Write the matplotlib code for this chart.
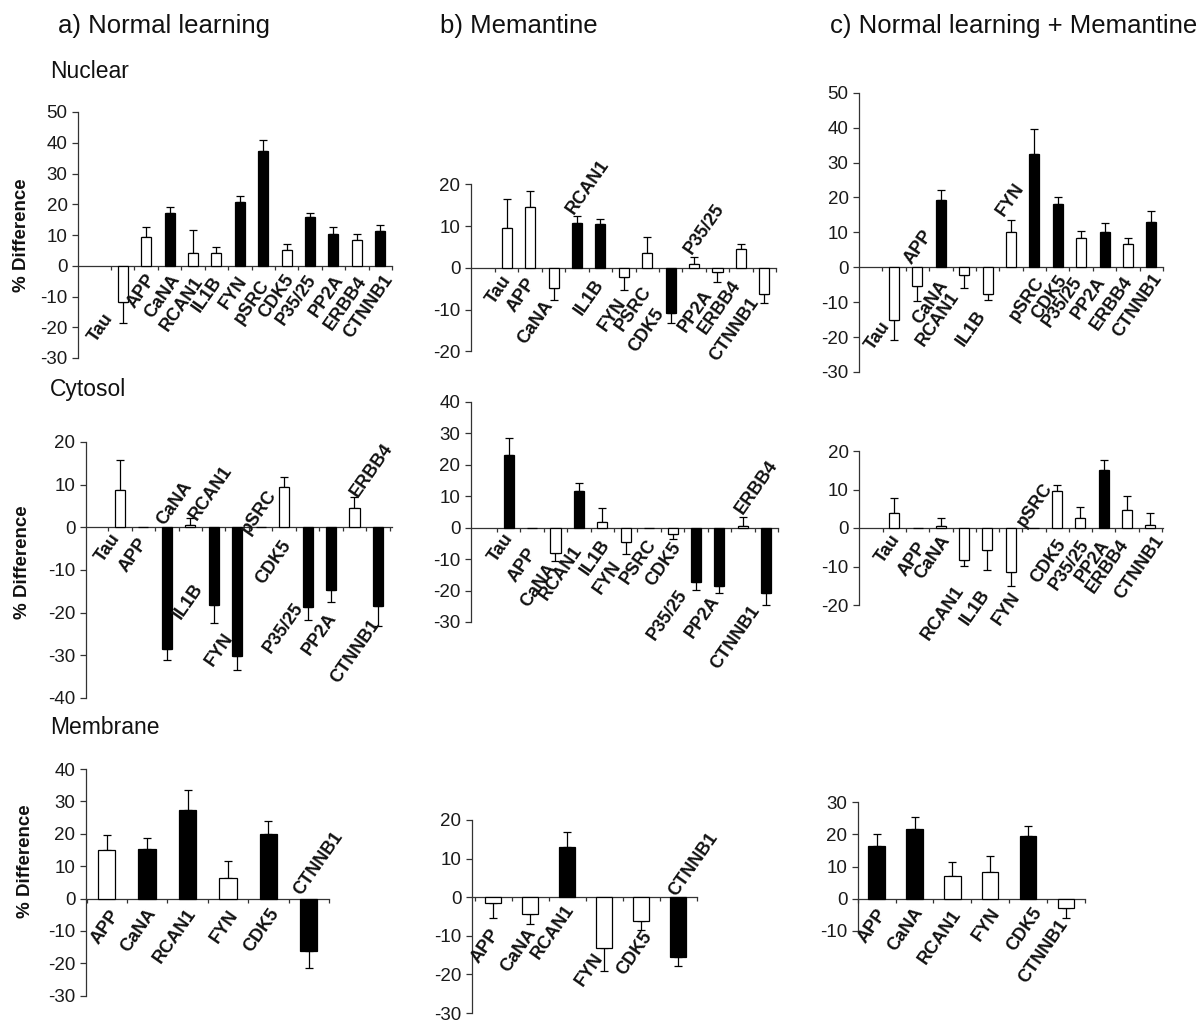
import matplotlib.pyplot as plt
import numpy as np

plt.rcParams['font.family'] = ['Liberation Sans', 'DejaVu Sans']
plt.rcParams['axes.unicode_minus'] = False

W, H = 1197, 1023

genes = ['Tau', 'APP', 'CaNA', 'RCAN1', 'IL1B', 'FYN', 'pSRC', 'CDK5', 'P35/25', 'PP2A', 'ERBB4', 'CTNNB1']
genes_b = ['Tau', 'APP', 'CaNA', 'RCAN1', 'IL1B', 'FYN', 'PSRC', 'CDK5', 'P35/25', 'PP2A', 'ERBB4', 'CTNNB1']
genes_mem = ['APP', 'CaNA', 'RCAN1', 'FYN', 'CDK5', 'CTNNB1']

# % difference, SEM, and significance (1 = filled bar)
nuc_a = [-11.7, 9.4, 17.0, 4.2, 4.2, 20.6, 37.2, 5.1, 15.7, 10.3, 8.5, 11.3]
nuc_a_err = [7.0, 3.3, 2.2, 7.5, 1.8, 2.0, 3.8, 1.9, 1.6, 2.4, 1.8, 2.1]
nuc_a_sig = [0, 0, 1, 0, 0, 1, 1, 0, 1, 1, 0, 1]

nuc_b = [9.6, 14.6, -4.8, 10.8, 10.5, -2.3, 3.6, -10.8, 0.8, -1.1, 4.4, -6.2]
nuc_b_err = [6.9, 3.7, 3.0, 1.6, 1.2, 3.1, 3.8, 2.4, 1.7, 2.3, 1.4, 2.2]
nuc_b_sig = [0, 0, 0, 1, 1, 0, 0, 1, 0, 0, 0, 0]

nuc_c = [-15.1, -5.5, 19.2, -2.2, -7.8, 10.1, 32.4, 18.2, 8.3, 10.1, 6.6, 12.9]
nuc_c_err = [5.8, 4.1, 3.0, 3.7, 1.5, 3.3, 7.1, 2.0, 2.2, 2.6, 1.7, 3.1]
nuc_c_sig = [0, 0, 1, 0, 0, 0, 1, 1, 0, 1, 0, 1]

cyt_a = [8.75, 0, -28.4, 0.5, -18.2, -30.1, 0, 9.4, -18.75, -14.8, 4.45, -18.4]
cyt_a_err = [7.1, 0, 2.7, 1.7, 4.2, 3.3, 0, 2.5, 3.0, 2.6, 2.7, 4.7]
cyt_a_sig = [0, 0, 1, 0, 1, 1, 0, 0, 1, 1, 0, 1]

cyt_b = [23.1, 0, -8.0, 11.8, 1.7, -4.5, 0, -2.1, -17.2, -18.5, 0.6, -20.7]
cyt_b_err = [5.3, 0, 2.5, 2.5, 4.5, 4.0, 0, 1.6, 2.6, 2.2, 2.7, 3.9]
cyt_b_sig = [1, 0, 0, 1, 0, 0, 0, 0, 1, 1, 0, 1]

cyt_c = [3.9, 0, 0.4, -8.4, -5.6, -11.5, 0, 9.7, 2.6, 15.1, 4.6, 0.9]
cyt_c_err = [4.0, 0, 2.2, 1.5, 5.4, 3.6, 0, 1.5, 2.8, 2.6, 3.8, 3.0]
cyt_c_sig = [0, 0, 0, 0, 0, 0, 0, 0, 0, 1, 0, 0]

mem_a = [14.9, 15.4, 27.4, 6.2, 19.8, -16.1]
mem_a_err = [4.8, 3.3, 6.2, 5.4, 4.0, 5.2]
mem_a_sig = [0, 1, 1, 0, 1, 1]

mem_b = [-1.5, -4.3, 12.9, -13.1, -6.2, -15.5]
mem_b_err = [4.0, 2.7, 4.0, 5.9, 2.2, 2.4]
mem_b_sig = [0, 0, 1, 0, 0, 1]

mem_c = [16.5, 21.8, 6.9, 8.2, 19.6, -2.9]
mem_c_err = [3.6, 3.6, 4.6, 5.2, 2.9, 3.1]
mem_c_sig = [1, 1, 0, 0, 1, 0]

# category label placement: (x shift from bar centre, y of label tip)
lab_nuc_a = [(-0.41, -14.4), (0.43, -1.9), (0.46, -1.9), (0.43, -2.5), (0.26, -2.5), (0.33, -2.5),
             (0.26, -3.6), (0.33, -1.9), (0.28, -1.9), (0.43, -1.9), (0.43, -2.5), (0.54, -1.9)]
lab_nuc_b = [(0.2, -1.0), (0.24, -1.8), (0.0, -7.0), (1.37, 26.5), (0.17, -2.2), (0.1, -6.6),
             (0.2, -3.8), (-0.25, -9.0), (1.3, 16.0), (-0.2, -4.6), (0.0, -2.2), (-0.2, -6.5)]
lab_nuc_c = [(-0.17, -14.8), (0.67, 11.5), (0.3, -2.9), (-0.2, -6.2), (-0.05, -11.5), (0.58, 24.9),
             (0.44, -1.9), (0.42, -1.4), (0.06, -1.9), (0.07, -1.9), (0.2, -1.9), (0.47, -1.0)]
lab_cyt_a = [(0.0, -0.7), (0.2, -1.9), (1.07, 11.5), (1.8, 15.2), (-0.46, -12.4), (-0.17, -24.0),
             (0.7, 9.4), (0.33, -2.3), (-0.19, -17.0), (0.25, -19.4), (1.64, 20.4), (0.08, -21.0)]
lab_cyt_b = [(0.2, -0.8), (0.2, -5.5), (0.05, -10.3), (0.15, -4.9), (0.32, -2.9), (-0.18, -9.7),
             (0.3, -2.9), (0.38, -3.8), (-0.35, -18.9), (0.0, -20.8), (1.5, 22.5), (-0.28, -24.0)]
lab_cyt_c = [(0.24, -1.0), (0.4, -3.0), (0.4, -1.2), (0.03, -14.2), (0.1, -15.2), (0.4, -16.0),
             (0.8, 12.5), (0.4, -2.2), (0.4, -2.2), (0.26, -2.2), (0.1, -2.2), (0.6, -1.3)]
lab_mem_a = [(0.33, -2.7), (0.24, -2.1), (0.22, -2.1), (0.25, -2.7), (0.28, -2.1), (0.84, 21.7)]
lab_mem_b = [(0.18, -7.4), (0.18, -7.4), (0.2, -1.2), (-0.03, -13.8), (0.29, -8.1), (1.07, 17.5)]
lab_mem_c = [(0.28, -2.5), (0.24, -1.9), (0.25, -2.5), (0.26, -1.9), (0.37, -1.9), (0.05, -5.6)]

# panel boxes in pixels: left, right, top, bottom, ymin, ymax, left pad, right pad (in slots)
layout = [
    (78, 392, 112, 358, -30, 50, 1.91, 0.5),
    (470.7, 776, 184.3, 351.3, -20, 20, 1.54, 0.47),
    (859, 1163, 92.7, 372, -30, 50, 1.5, 0.47),
    (85.7, 392, 442, 698, -40, 20, 1.46, 0.6),
    (470.7, 778, 402, 622, -30, 40, 1.62, 0.48),
    (859, 1163, 451, 605, -20, 20, 1.52, 0.55),
    (85.7, 329, 769, 995.7, -30, 40, 0.52, 0.5),
    (471.7, 696.7, 820, 1013, -30, 20, 0.58, 0.5),
    (857.7, 1085, 802.3, 930.7, -10, 30, 0.48, 0.5),
]

panels = [
    (genes, nuc_a, nuc_a_err, nuc_a_sig, lab_nuc_a),
    (genes_b, nuc_b, nuc_b_err, nuc_b_sig, lab_nuc_b),
    (genes, nuc_c, nuc_c_err, nuc_c_sig, lab_nuc_c),
    (genes, cyt_a, cyt_a_err, cyt_a_sig, lab_cyt_a),
    (genes_b, cyt_b, cyt_b_err, cyt_b_sig, lab_cyt_b),
    (genes, cyt_c, cyt_c_err, cyt_c_sig, lab_cyt_c),
    (genes_mem, mem_a, mem_a_err, mem_a_sig, lab_mem_a),
    (genes_mem, mem_b, mem_b_err, mem_b_sig, lab_mem_b),
    (genes_mem, mem_c, mem_c_err, mem_c_sig, lab_mem_c),
]

AXC = '#333333'

fig = plt.figure(figsize=(W / 100, H / 100), dpi=100)


def draw_panel(box, names, vals, errs, sig, labs):
    left, right, top, bottom, ymin, ymax, padl, padr = box
    ax = fig.add_axes([left / W, 1 - bottom / H, (right - left) / W, (bottom - top) / H])
    n = len(vals)
    x = np.arange(n)
    vals = np.array(vals, dtype=float)
    errs = np.array(errs, dtype=float)
    colors = ['black' if s else 'white' for s in sig]
    ax.bar(x, vals, width=0.43, color=colors, edgecolor='black', linewidth=0.9, zorder=3)
    lo = np.where(vals < 0, errs, 0)
    hi = np.where(vals >= 0, errs, 0)
    m = errs > 0
    ax.errorbar(x[m], vals[m], yerr=[lo[m], hi[m]], fmt='none', ecolor='black',
                elinewidth=0.9, capsize=3.2, capthick=0.9, zorder=2)
    ax.set_xlim(-padl, n - 1 + padr)
    ax.set_ylim(ymin, ymax)
    ax.set_yticks(np.arange(ymin, ymax + 1, 10))
    ax.set_xticks(np.arange(-0.5, n, 1.0))
    ax.set_xticklabels([])
    for s in ['top', 'right']:
        ax.spines[s].set_visible(False)
    ax.spines['bottom'].set_position(('data', 0))
    for s in ['left', 'bottom']:
        ax.spines[s].set_color(AXC)
        ax.spines[s].set_linewidth(0.9)
    ax.tick_params(axis='y', direction='out', length=4.5, width=0.9, color=AXC,
                   labelsize=13.5, labelcolor='#1a1a1a', pad=3)
    ax.tick_params(axis='x', direction='out', length=3, width=0.9, color=AXC)
    ax.patch.set_visible(False)
    for i, (name, (dx, ty)) in enumerate(zip(names, labs)):
        ax.annotate(name, xy=(i + dx, ty), xytext=(0, -5.3), textcoords='offset points',
                    rotation=55, rotation_mode='anchor', ha='right', va='baseline',
                    fontsize=13, fontweight='bold', color='#111111',
                    annotation_clip=False, zorder=4)
    return ax


for box, (names, vals, errs, sig, labs) in zip(layout, panels):
    draw_panel(box, names, vals, errs, sig, labs)

# column titles and compartment headings
for tx, s in [(58, 'a) Normal learning'), (440, 'b) Memantine'), (830, 'c) Normal learning + Memantine')]:
    fig.text(tx / W, 1 - 33 / H, s, fontsize=18.5, color='#111111', ha='left', va='baseline')
for ty, s in [(78, 'Nuclear'), (396, 'Cytosol'), (734, 'Membrane')]:
    fig.text(50 / W, 1 - ty / H, s, fontsize=16.5, color='#111111', ha='left', va='baseline')

# y-axis titles on the left column
for cx, cy in [(21.5, 235), (23, 562), (26, 861)]:
    fig.text(cx / W, 1 - cy / H, '% Difference', rotation=90, fontsize=13.5, fontweight='bold',
             color='#111111', ha='center', va='center')

fig.savefig('out.png', dpi=100, facecolor='white')
